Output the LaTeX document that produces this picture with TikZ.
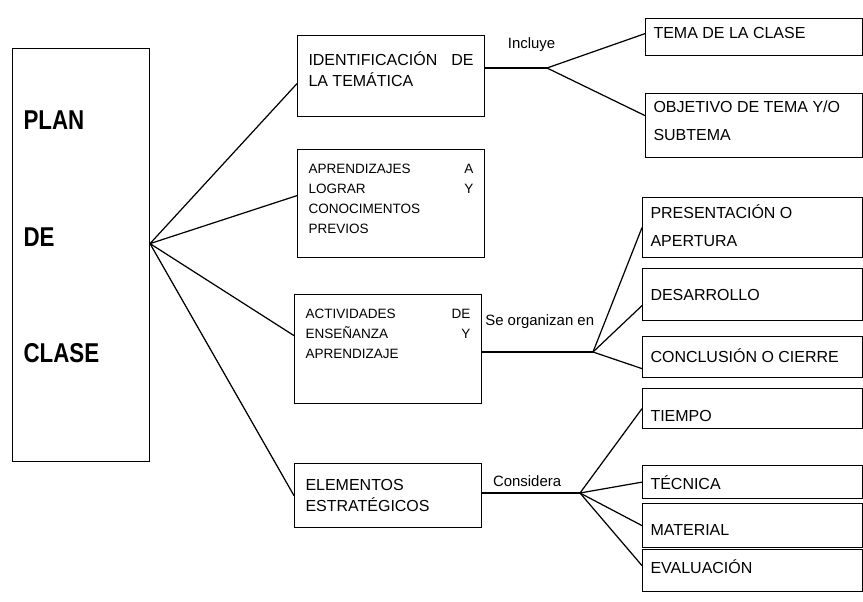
\documentclass[tikz,border=0pt]{standalone}
\usepackage{fontspec}
\setmainfont{Liberation Sans}
\newfontfamily\planfont[FakeStretch=0.82]{Liberation Sans}
\usetikzlibrary{calc}
\newdimen\px \px=0.02cm
\newcommand{\caja}[4]{\parbox[t][#2\px][t]{#1\px}{\rule{0pt}{#3\px}#4}}

\begin{document}
\begin{tikzpicture}[x=0.02cm, y=-0.02cm,
  every node/.style={font=\fontsize{9.1}{12.2}\selectfont},
  planN/.style={draw, line width=0.7pt, inner xsep=6.2pt, inner ysep=0pt, anchor=north west, font=\planfont\bfseries\fontsize{15.5}{66.3}\selectfont},
  midN/.style={draw, line width=0.7pt, inner xsep=6.2pt, inner ysep=0pt, anchor=north west},
  smallN/.style={midN, font=\fontsize{7.7}{11.5}\selectfont},
  rightN/.style={draw, line width=0.7pt, inner xsep=4.5pt, inner ysep=0pt, anchor=north west},
  link/.style={line width=0.7pt},
  lbl/.style={font=\fontsize{8.5}{10}\selectfont, inner sep=0pt},
]
\useasboundingbox (0,0) rectangle (863,602);
\node[planN] (plan) at (12,48) {\caja{115}{413}{81}{PLAN\\DE\\CLASE}};
\node[midN] (ident) at (297,35) {\caja{165}{81}{29.5}{IDENTIFICACIÓN\hfill DE\\LA TEMÁTICA}};
\node[smallN] (aprend) at (297,149) {\caja{165}{108}{23.5}{APRENDIZAJES\hfill A\\LOGRAR\hfill Y\\CONOCIMENTOS\\PREVIOS}};
\node[smallN] (activ) at (294,294) {\caja{165}{109}{23.5}{ACTIVIDADES\hfill DE\\ENSEÑANZA\hfill Y\\APRENDIZAJE}};
\node[midN] (elem) at (294,463) {\caja{165}{64}{26.5}{ELEMENTOS\\ESTRATÉGICOS}};
\node[rightN] (tema) at (645,18) {\caja{201}{37}{20}{TEMA DE LA CLASE}};
\node[rightN] (objet) at (645,93) {\caja{201}{64}{18.5}{OBJETIVO DE TEMA Y/O\\[6.5\px]SUBTEMA}};
\node[rightN] (presen) at (642,197) {\caja{204}{60}{20.5}{PRESENTACIÓN O\\[6.5\px]APERTURA}};
\node[rightN] (desarr) at (642,268) {\caja{204}{52}{32}{DESARROLLO}};
\node[rightN] (concl) at (642,336) {\caja{204}{41}{26}{CONCLUSIÓN O CIERRE}};
\node[rightN] (tiempo) at (642,388) {\caja{204}{40}{33}{TIEMPO}};
\node[rightN] (tecnica) at (642,465) {\caja{204}{33}{24}{TÉCNICA}};
\node[rightN] (material) at (642,503) {\caja{204}{44}{32}{MATERIAL}};
\node[rightN] (eval) at (642,549) {\caja{204}{42}{24}{EVALUACIÓN}};
\coordinate (hub) at ($(plan.east)+(0,-11.5)$);
\coordinate (b1) at (547,68);
\coordinate (b2) at (593,352);
\coordinate (b3) at (580,493);
\draw[link] (hub) -- ($(ident.west)+(0,7.5)$);
\draw[link] (hub) -- ($(aprend.west)+(0,-8)$);
\draw[link] (hub) -- ($(activ.west)+(0,-13.5)$);
\draw[link] (hub) -- (elem.west);
\draw[link] (ident.east |- b1) -- node[lbl, pos=0.75, above=9pt] {Incluye} (b1);
\draw[link] (b1) -- ($(tema.west)+(0,-3.5)$);
\draw[link] (b1) -- ($(objet.west)+(0,-10)$);
\draw[link] (activ.east |- b2) -- node[lbl, pos=0.52, above=13pt] {Se organizan en} (b2);
\draw[link] (b2) -- (presen.west);
\draw[link] (b2) -- ($(desarr.west)+(0,11)$);
\draw[link] (b2) -- ($(concl.west)+(0,11.5)$);
\draw[link] (elem.east |- b3) -- node[lbl, pos=0.46, above=3pt] {Considera} (b3);
\draw[link] (b3) -- (tiempo.west);
\draw[link] (b3) -- (tecnica.west);
\draw[link] (b3) -- (material.west);
\draw[link] (b3) -- ($(eval.west)+(0,-5)$);
\end{tikzpicture}
\end{document}
